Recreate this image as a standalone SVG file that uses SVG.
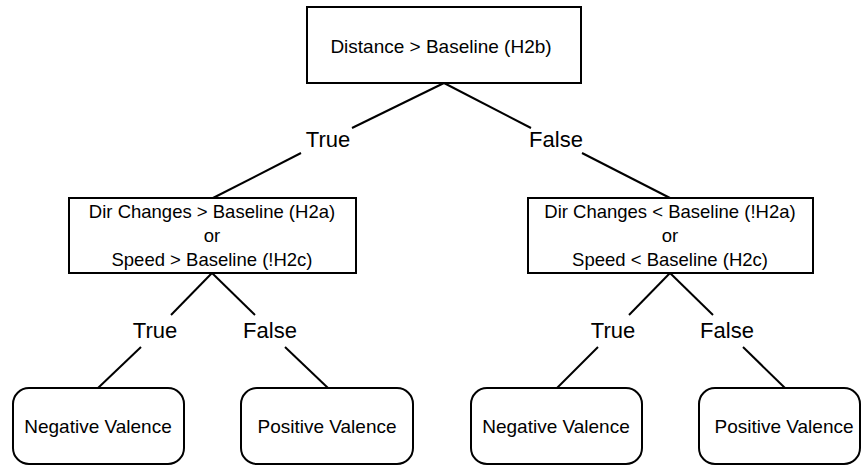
<svg xmlns="http://www.w3.org/2000/svg" width="862" height="465" viewBox="0 0 862 465">
<style>
.box{fill:#fff;stroke:#000;stroke-width:2}
.t{font-family:"Liberation Sans",Arial,sans-serif;font-size:19px;fill:#000;text-anchor:middle}
.m{font-size:18.5px}
.l{font-family:"Liberation Sans",Arial,sans-serif;font-size:22px;fill:#000;text-anchor:middle}
.c line{stroke:#000;stroke-width:2}
</style>
<rect width="862" height="465" fill="#fff"/>
<g class="c" id="connectors">
<line x1="444" y1="83" x2="352" y2="128"/>
<line x1="301" y1="153" x2="213" y2="198"/>
<line x1="444" y1="83" x2="531" y2="128"/>
<line x1="582" y1="153" x2="670" y2="198"/>
<line x1="212" y1="273" x2="171" y2="315"/>
<line x1="141" y1="347" x2="98" y2="388"/>
<line x1="212" y1="273" x2="255" y2="315"/>
<line x1="285" y1="347" x2="328" y2="388"/>
<line x1="670" y1="273" x2="629" y2="315"/>
<line x1="598" y1="347" x2="557" y2="388"/>
<line x1="670" y1="273" x2="713" y2="315"/>
<line x1="743" y1="347" x2="785" y2="388"/>
<text class="l" x="328" y="147">True</text>
<text class="l" x="556" y="147">False</text>
<text class="l" x="155" y="338">True</text>
<text class="l" x="270" y="338">False</text>
<text class="l" x="613" y="338">True</text>
<text class="l" x="727" y="338">False</text>
</g>
<g id="root">
<rect class="box" x="307" y="7" width="274" height="76"/>
<text class="t" x="441" y="53">Distance &gt; Baseline (H2b)</text>
</g>
<g id="left">
<rect class="box" x="69" y="198" width="287" height="75"/>
<text class="t m" x="212" y="218">Dir Changes &gt; Baseline (H2a)</text>
<text class="t m" x="212" y="242">or</text>
<text class="t m" x="212" y="266">Speed &gt; Baseline (!H2c)</text>
</g>
<g id="right">
<rect class="box" x="528" y="198" width="285" height="75"/>
<text class="t m" x="670" y="218">Dir Changes &lt; Baseline (!H2a)</text>
<text class="t m" x="670" y="242">or</text>
<text class="t m" x="670" y="266">Speed &lt; Baseline (H2c)</text>
</g>
<g id="leaf1">
<rect class="box" x="13" y="388" width="171" height="76" rx="16"/>
<text class="t" x="98" y="433">Negative Valence</text>
</g>
<g id="leaf2">
<rect class="box" x="241" y="388" width="172" height="76" rx="16"/>
<text class="t" x="327" y="433">Positive Valence</text>
</g>
<g id="leaf3">
<rect class="box" x="471" y="388" width="171" height="76" rx="16"/>
<text class="t" x="556" y="433">Negative Valence</text>
</g>
<g id="leaf4">
<rect class="box" x="699" y="388" width="161" height="76" rx="16"/>
<text class="t" x="784" y="433">Positive Valence</text>
</g>
</svg>
